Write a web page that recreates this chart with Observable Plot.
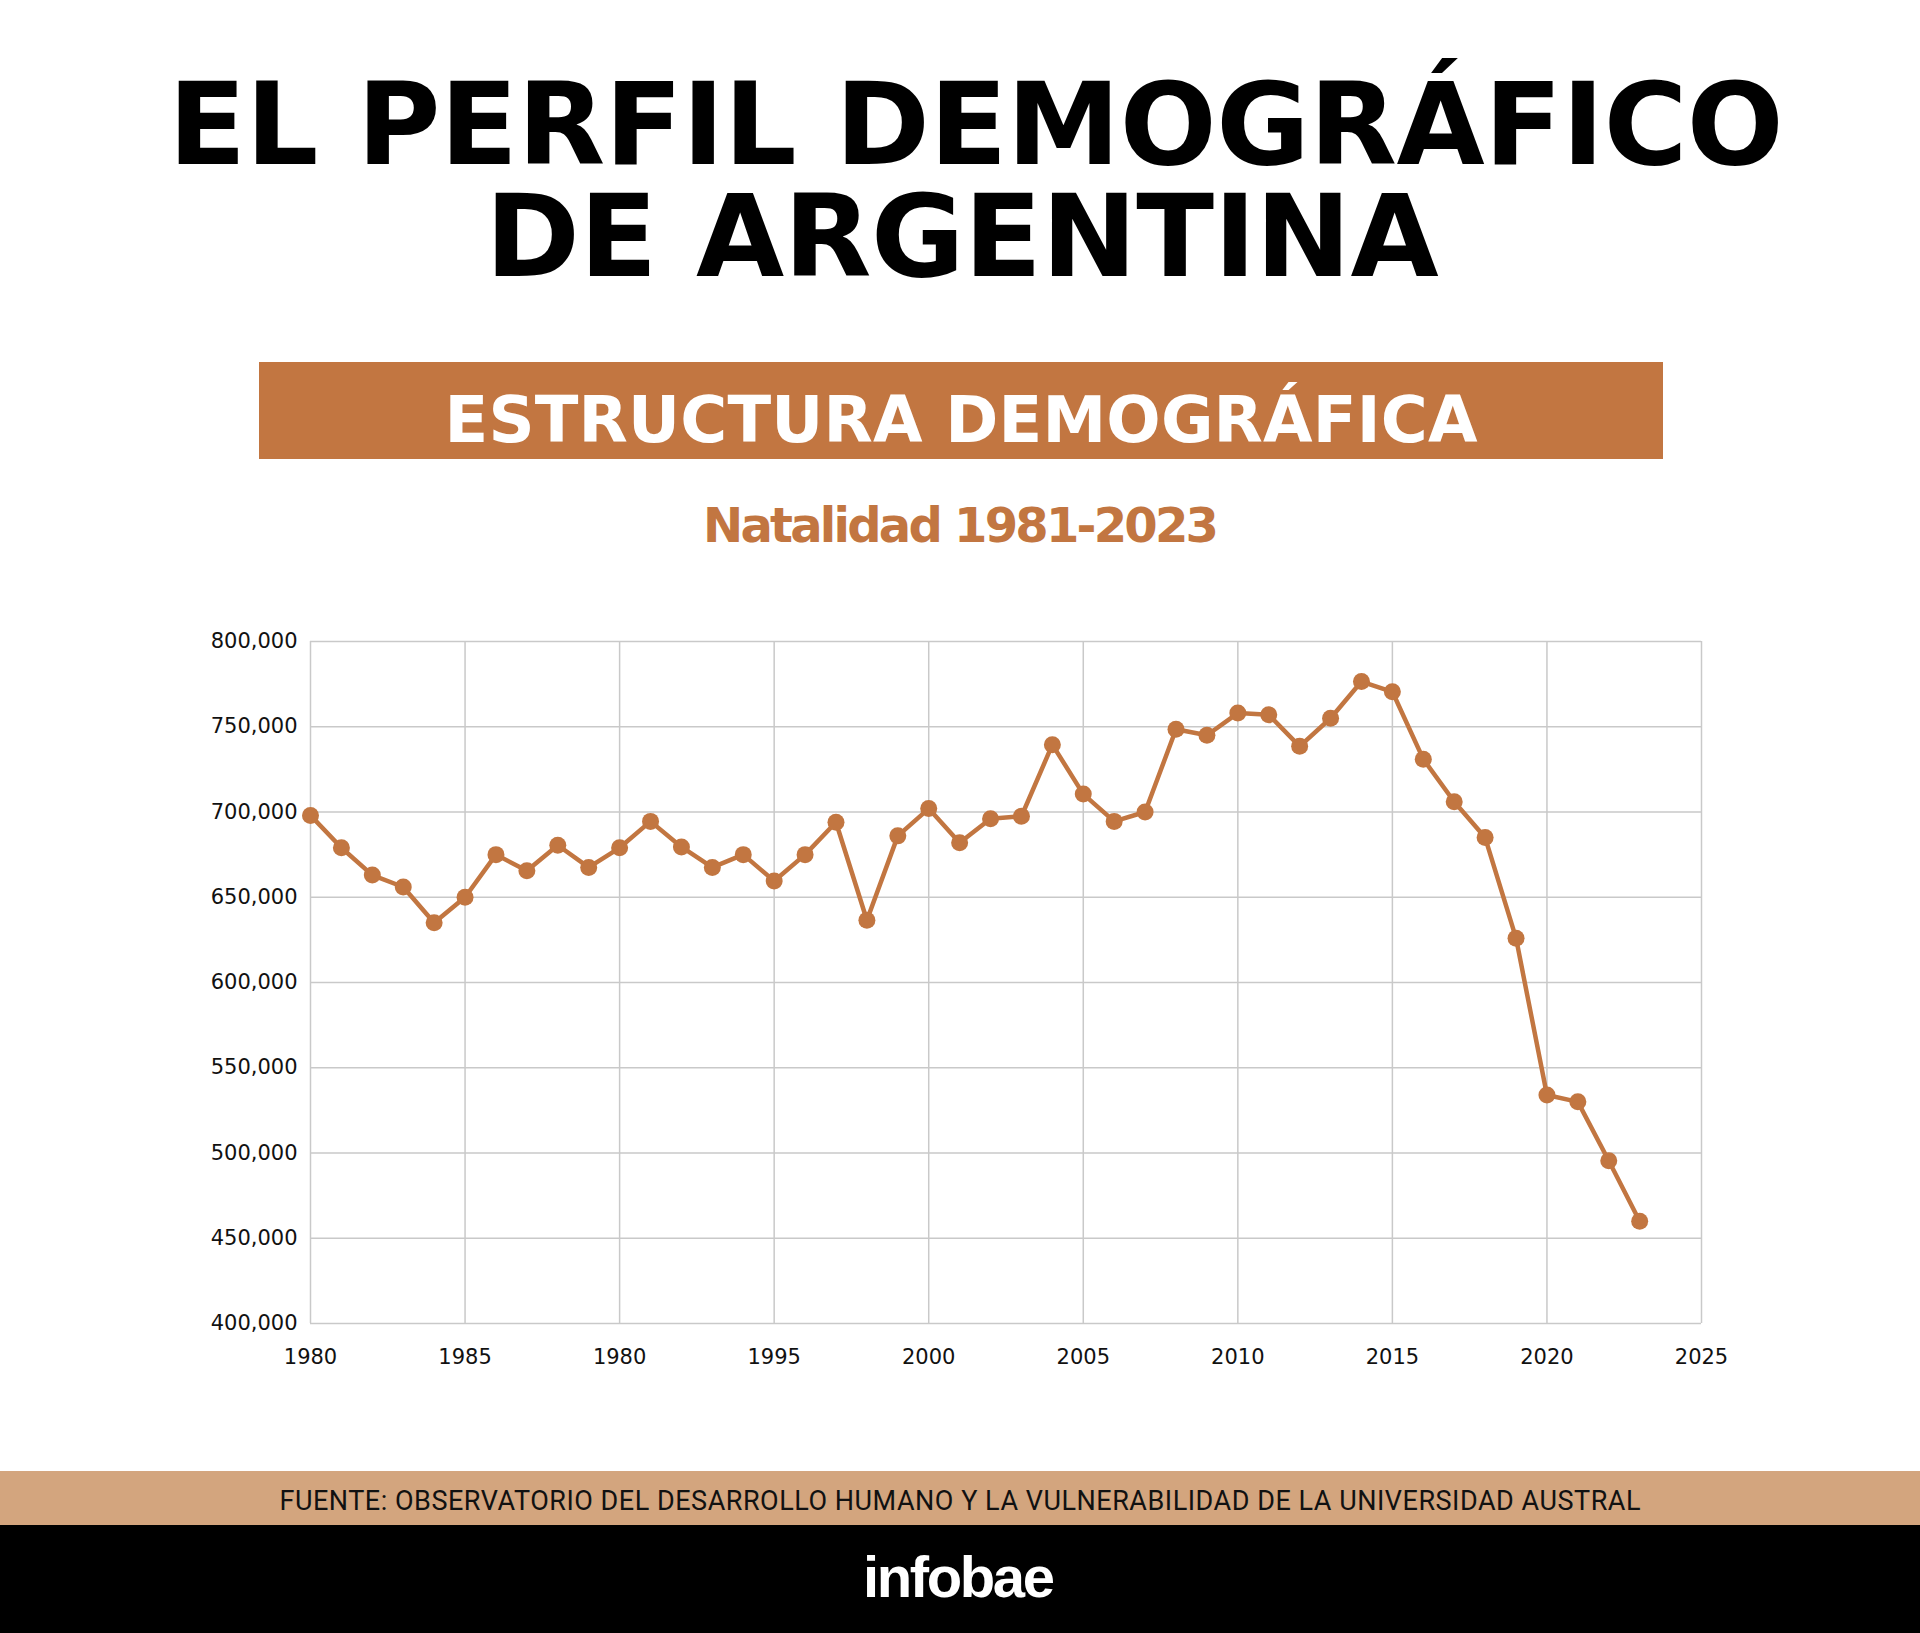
<!DOCTYPE html>
<html>
<head>
<meta charset="utf-8">
<script src="https://cdn.jsdelivr.net/npm/d3@7"></script>
<script src="https://cdn.jsdelivr.net/npm/@observablehq/plot@0.6"></script>
<style>
html, body { margin: 0; padding: 0; background: #fff; }
#page { position: relative; width: 1920px; height: 1633px; overflow: hidden; background: #fff; }
.line { position: absolute; left: 0; width: 1920px; text-align: center; white-space: nowrap; }
.bl { display: inline-block; width: 0; height: 0; }
.txt { position: relative; }
#title { font-family: "DejaVu Sans"; font-weight: 700; font-size: 114px; color: #000; line-height: 112px; }
#measure { position: absolute; left: -5000px; top: 0; white-space: nowrap; font-family: "DejaVu Sans"; font-weight: 700; font-size: 114px; }
#banner { position: absolute; left: 259px; top: 362px; width: 1404px; height: 97px; background: #C27641; }
#bannerText { font-family: "DejaVu Sans"; font-weight: 700; font-size: 64px; color: #fff; line-height: 1.1; }
#subtitle { font-family: "DejaVu Sans"; font-weight: 700; font-size: 48px; color: #C27641; line-height: 1.1; }
#chart { position: absolute; left: 0; top: 600px; }
#footer { position: absolute; left: 0; top: 1471px; width: 1920px; height: 54px; background: #D3A57E; }
#footerText { font-family: Roboto; font-weight: 400; font-size: 27px; color: #111; line-height: 1.1; }
#black { position: absolute; left: 0; top: 1525px; width: 1920px; height: 108px; background: #000; }
#logo { font-family: "Liberation Sans"; font-weight: 700; font-size: 58px; color: #fff; line-height: 1.1; }
</style>
</head>
<body>
<div id="page">
  <div id="banner"></div>
  <div id="footer"></div>
  <div id="black"></div>
  <div id="chart"></div>
  <div class="line" id="title"><span class="bl"></span>EL PERFIL DEMOGRÁFICO<br>DE ARGENTINA</div>
  <div class="line" id="bannerText"><span class="txt">ESTRUCTURA DEMOGRÁFICA</span><span class="bl"></span></div>
  <div class="line" id="subtitle"><span class="txt">Natalidad 1981-2023</span><span class="bl"></span></div>
  <div class="line" id="footerText"><span class="txt">FUENTE: OBSERVATORIO DEL DESARROLLO HUMANO Y LA VULNERABILIDAD DE LA UNIVERSIDAD AUSTRAL</span><span class="bl"></span></div>
  <div class="line" id="logo"><span class="txt">infobae</span><span class="bl"></span></div>
</div>
<script>
// ---- Data ----
const years = [1980, 1981, 1982, 1983, 1984, 1985, 1986, 1987, 1988, 1989,
  1990, 1991, 1992, 1993, 1994, 1995, 1996, 1997, 1998, 1999,
  2000, 2001, 2002, 2003, 2004, 2005, 2006, 2007, 2008, 2009,
  2010, 2011, 2012, 2013, 2014, 2015, 2016, 2017, 2018, 2019,
  2020, 2021, 2022, 2023];
const births = [698000, 679000, 663000, 656000, 635000, 650000, 675000, 665500, 680500, 667500,
  679000, 694500, 679500, 667500, 675000, 659500, 675000, 694000, 636500, 686000,
  702000, 682000, 696000, 697500, 739500, 710500, 694500, 700000, 748500, 745000,
  758000, 757000, 738500, 755000, 776500, 770500, 731000, 706000, 685000, 626000,
  534000, 530000, 495500, 460000];
const xTicks = [1980, 1985, 1990, 1995, 2000, 2005, 2010, 2015, 2020, 2025];
const xTickLabels = ["1980", "1985", "1980", "1995", "2000", "2005", "2010", "2015", "2020", "2025"];
const yTicks = [400000, 450000, 500000, 550000, 600000, 650000, 700000, 750000, 800000];

const data = years.map((year, i) => ({year, births: births[i]}));
const orange = "#C27641";
const gridColor = "#c9c9c9";

const chart = Plot.plot({
  width: 1920,
  height: 820,
  marginTop: 41,
  marginBottom: 97,
  marginLeft: 310,
  marginRight: 219,
  style: {fontFamily: "DejaVu Sans", fontSize: "21px", color: "#111", background: "transparent"},
  x: {domain: [1980, 2025]},
  y: {domain: [400000, 800000]},
  marks: [
    Plot.ruleX(xTicks, {x: d => d, stroke: gridColor, strokeWidth: 1.5}),
    Plot.ruleY(yTicks, {y: d => d, stroke: gridColor, strokeWidth: 1.5}),
    Plot.axisX(xTicks, {tickSize: 0, tickPadding: 26, fontSize: 21, tickFormat: d => xTickLabels[xTicks.indexOf(d)], label: null}),
    Plot.axisY(yTicks, {tickSize: 0, tickPadding: 13, fontSize: 21, tickFormat: d3.format(","), label: null}),
    Plot.line(data, {x: "year", y: "births", stroke: orange, strokeWidth: 4.5}),
    Plot.dot(data, {x: "year", y: "births", r: 8.5, fill: orange, stroke: "none"})
  ]
});
document.getElementById("chart").appendChild(chart);

// ---- Text placement: width, horizontal centre, baseline ----
function fit(span, width, centre) {
  const n = span.textContent.length;
  span.style.letterSpacing = "0px";
  span.style.marginRight = "0px";
  const w0 = span.getBoundingClientRect().width;
  if (width && n > 1) {
    const ls = (width - w0) / (n - 1);
    span.style.letterSpacing = ls + "px";
    span.style.marginRight = (-ls) + "px";
  }
  span.style.left = ((centre || 960) - 960) + "px";
}
function setBaseline(el, baseline) {
  el.style.top = "0px";
  const off = el.querySelector(".bl").getBoundingClientRect().top - el.getBoundingClientRect().top;
  el.style.top = (baseline - off) + "px";
}
function place(id, baseline, width, centre) {
  const el = document.getElementById(id);
  fit(el.querySelector(".txt"), width, centre);
  setBaseline(el, baseline);
}
function measureWidth(text) {
  const m = document.createElement("span");
  m.id = "measure";
  m.textContent = text;
  document.body.appendChild(m);
  const w = m.getBoundingClientRect().width;
  m.remove();
  return w;
}
function layoutTitle() {
  const el = document.getElementById("title");
  const w1 = measureWidth("EL PERFIL DEMOGRÁFICO");
  const w2 = measureWidth("DE ARGENTINA");
  const ls1 = (1614 - w1) / 20, ls2 = (955 - w2) / 11;
  const ls = (ls1 * 2 + ls2) / 3;
  el.style.letterSpacing = ls + "px";
  // centre line 2 at 962, line 1 at 976 (text-indent shifts first line by half)
  el.style.left = (962 - 960 + ls / 2) + "px";
  el.style.textIndent = (2 * (976 - 962)) + "px";
  setBaseline(el, 164);
}
function layout() {
  layoutTitle();
  place("bannerText", 442, 1033, 961);
  place("subtitle", 542, 516, 961);
  place("footerText", 1510, 1361, 960);
  place("logo", 1597, 192, 959);
}
layout();
if (document.fonts && document.fonts.ready) document.fonts.ready.then(layout);
</script>
</body>
</html>
